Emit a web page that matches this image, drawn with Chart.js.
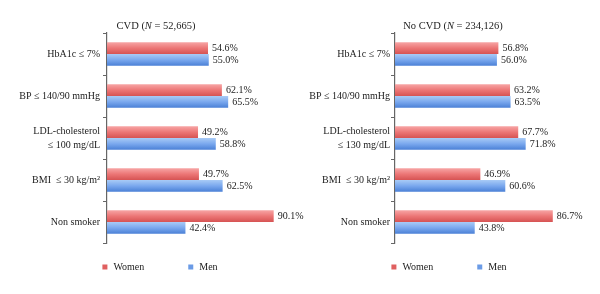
<!DOCTYPE html>
<html><head><meta charset="utf-8">
<script src="https://cdn.jsdelivr.net/npm/chart.js@4"></script>
<style>
html,body{margin:0;padding:0;background:#fff;width:600px;height:294px;overflow:hidden;}
canvas{position:absolute;top:0;}
</style></head><body>
<canvas id="c1" width="316" height="294" style="left:0"></canvas>
<canvas id="c2" width="300" height="294" style="left:300px"></canvas>
<script>
// ---- data ----
const seriesNames = ['Women', 'Men'];
const cvdCategories = ['HbA1c ≤ 7%', 'BP ≤ 140/90 mmHg', ['LDL-cholesterol', '≤ 100 mg/dL'], 'BMI  ≤ 30 kg/m²', 'Non smoker'];
const noCvdCategories = ['HbA1c ≤ 7%', 'BP ≤ 140/90 mmHg', ['LDL-cholesterol', '≤ 130 mg/dL'], 'BMI  ≤ 30 kg/m²', 'Non smoker'];
const cvdWomen = [54.6, 62.1, 49.2, 49.7, 90.1];
const cvdMen = [55.0, 65.5, 58.8, 62.5, 42.4];
const noCvdWomen = [56.8, 63.2, 67.7, 46.9, 86.7];
const noCvdMen = [56.0, 63.5, 71.8, 60.6, 43.8];
const cvdTitle = ['CVD (', 'N', ' = 52,665)'];
const noCvdTitle = ['No CVD (', 'N', ' = 234,126)'];

const FONT = '"Liberation Serif", "DejaVu Serif", serif';
Chart.defaults.font.family = FONT;

const gradientBars = {
  id: 'gradientBars',
  beforeDatasetsDraw(chart) {
    const ctx = chart.ctx;
    chart.data.datasets.forEach((ds, i) => {
      chart.getDatasetMeta(i).data.forEach(bar => {
        const top = bar.y - bar.height / 2, bot = bar.y + bar.height / 2;
        const g = ctx.createLinearGradient(0, top, 0, bot);
        g.addColorStop(0, ds.topColor);
        g.addColorStop(0.5, ds.midColor);
        g.addColorStop(1, ds.bottomColor);
        bar.options = Object.assign({}, bar.options, { backgroundColor: g });
      });
    });
  }
};

const valueLabels = {
  id: 'valueLabels',
  afterDatasetsDraw(chart) {
    const ctx = chart.ctx;
    ctx.save();
    ctx.font = '10px ' + FONT;
    ctx.fillStyle = '#222';
    ctx.textBaseline = 'middle';
    ctx.textAlign = 'left';
    chart.data.datasets.forEach((ds, i) => {
      chart.getDatasetMeta(i).data.forEach((bar, j) => {
        ctx.fillText(ds.data[j].toFixed(1) + '%', bar.x + 4, bar.y);
      });
    });
    ctx.restore();
  }
};

const mixTitle = {
  id: 'mixTitle',
  afterDraw(chart, args, opts) {
    const ctx = chart.ctx;
    const parts = opts.parts;
    ctx.save();
    ctx.fillStyle = '#222';
    ctx.textBaseline = 'middle';
    ctx.textAlign = 'left';
    const fonts = parts.map((p, i) => (i === 1 ? 'italic ' : '') + '10.5px ' + FONT);
    let total = 0;
    const widths = parts.map((p, i) => { ctx.font = fonts[i]; const w = ctx.measureText(p).width; total += w; return w; });
    let x = opts.cx - total / 2;
    parts.forEach((p, i) => { ctx.font = fonts[i]; ctx.fillText(p, x, opts.y); x += widths[i]; });
    ctx.restore();
  }
};

const sideLegend = {
  id: 'sideLegend',
  afterDraw(chart, args, opts) {
    const ctx = chart.ctx;
    ctx.save();
    ctx.font = '10px ' + FONT;
    ctx.textBaseline = 'middle';
    ctx.textAlign = 'left';
    const box = 5, gap = 6, itemGap = 44;
    const items = chart.data.datasets.map(ds => ({ text: ds.label, color: ds.legendColor, w: ctx.measureText(ds.label).width }));
    let total = items.reduce((s, it) => s + box + gap + it.w, 0) + itemGap * (items.length - 1);
    let x = opts.cx - total / 2;
    items.forEach(it => {
      ctx.fillStyle = it.color;
      ctx.fillRect(x, opts.y - box / 2, box, box);
      ctx.fillStyle = '#222';
      ctx.fillText(it.text, x + box + gap, opts.y);
      x += box + gap + it.w + itemGap;
    });
    ctx.restore();
  }
};

function makeChart(id, labels, women, men, title, axisWidth, padRight, tickPad, titleX, legendX) {
  return new Chart(document.getElementById(id), {
    type: 'bar',
    data: {
      labels: labels,
      datasets: [
        { label: seriesNames[0], data: women, topColor: '#f7a5a5', midColor: '#ec7676', bottomColor: '#d65353', legendColor: '#e06060', backgroundColor: '#e86a6a', borderWidth: 0 },
        { label: seriesNames[1], data: men, topColor: '#a9cbf6', midColor: '#7aa8ee', bottomColor: '#4a80d6', legendColor: '#6b9be6', backgroundColor: '#73a2ea', borderWidth: 0 }
      ]
    },
    options: {
      indexAxis: 'y',
      responsive: false,
      animation: false,
      layout: { padding: { top: 33, bottom: 51, left: 0, right: padRight } },
      datasets: { bar: { categoryPercentage: 0.56, barPercentage: 1.0 } },
      plugins: {
        legend: { display: false },
        title: { display: false },
        tooltip: { enabled: false },
        mixTitle: { parts: title, cx: titleX, y: 26 },
        sideLegend: { cx: legendX, y: 267 }
      },
      scales: {
        x: { display: false, min: 0, max: 100 },
        y: {
          afterFit(s) { s.width = axisWidth; },
          grid: { drawOnChartArea: false, drawTicks: true, tickLength: 4, color: '#666', offset: true },
          border: { color: '#666', width: 1.2 },
          ticks: { padding: tickPad, color: '#222', font: { size: 10, lineHeight: 1.4 } }
        }
      }
    },
    plugins: [gradientBars, valueLabels, mixTitle, sideLegend]
  });
}

makeChart('c1', cvdCategories, cvdWomen, cvdMen, cvdTitle, 107, 24, 3, 156, 160);
makeChart('c2', noCvdCategories, noCvdWomen, noCvdMen, noCvdTitle, 95, 23, 1, 153, 149);
</script>
</body></html>
